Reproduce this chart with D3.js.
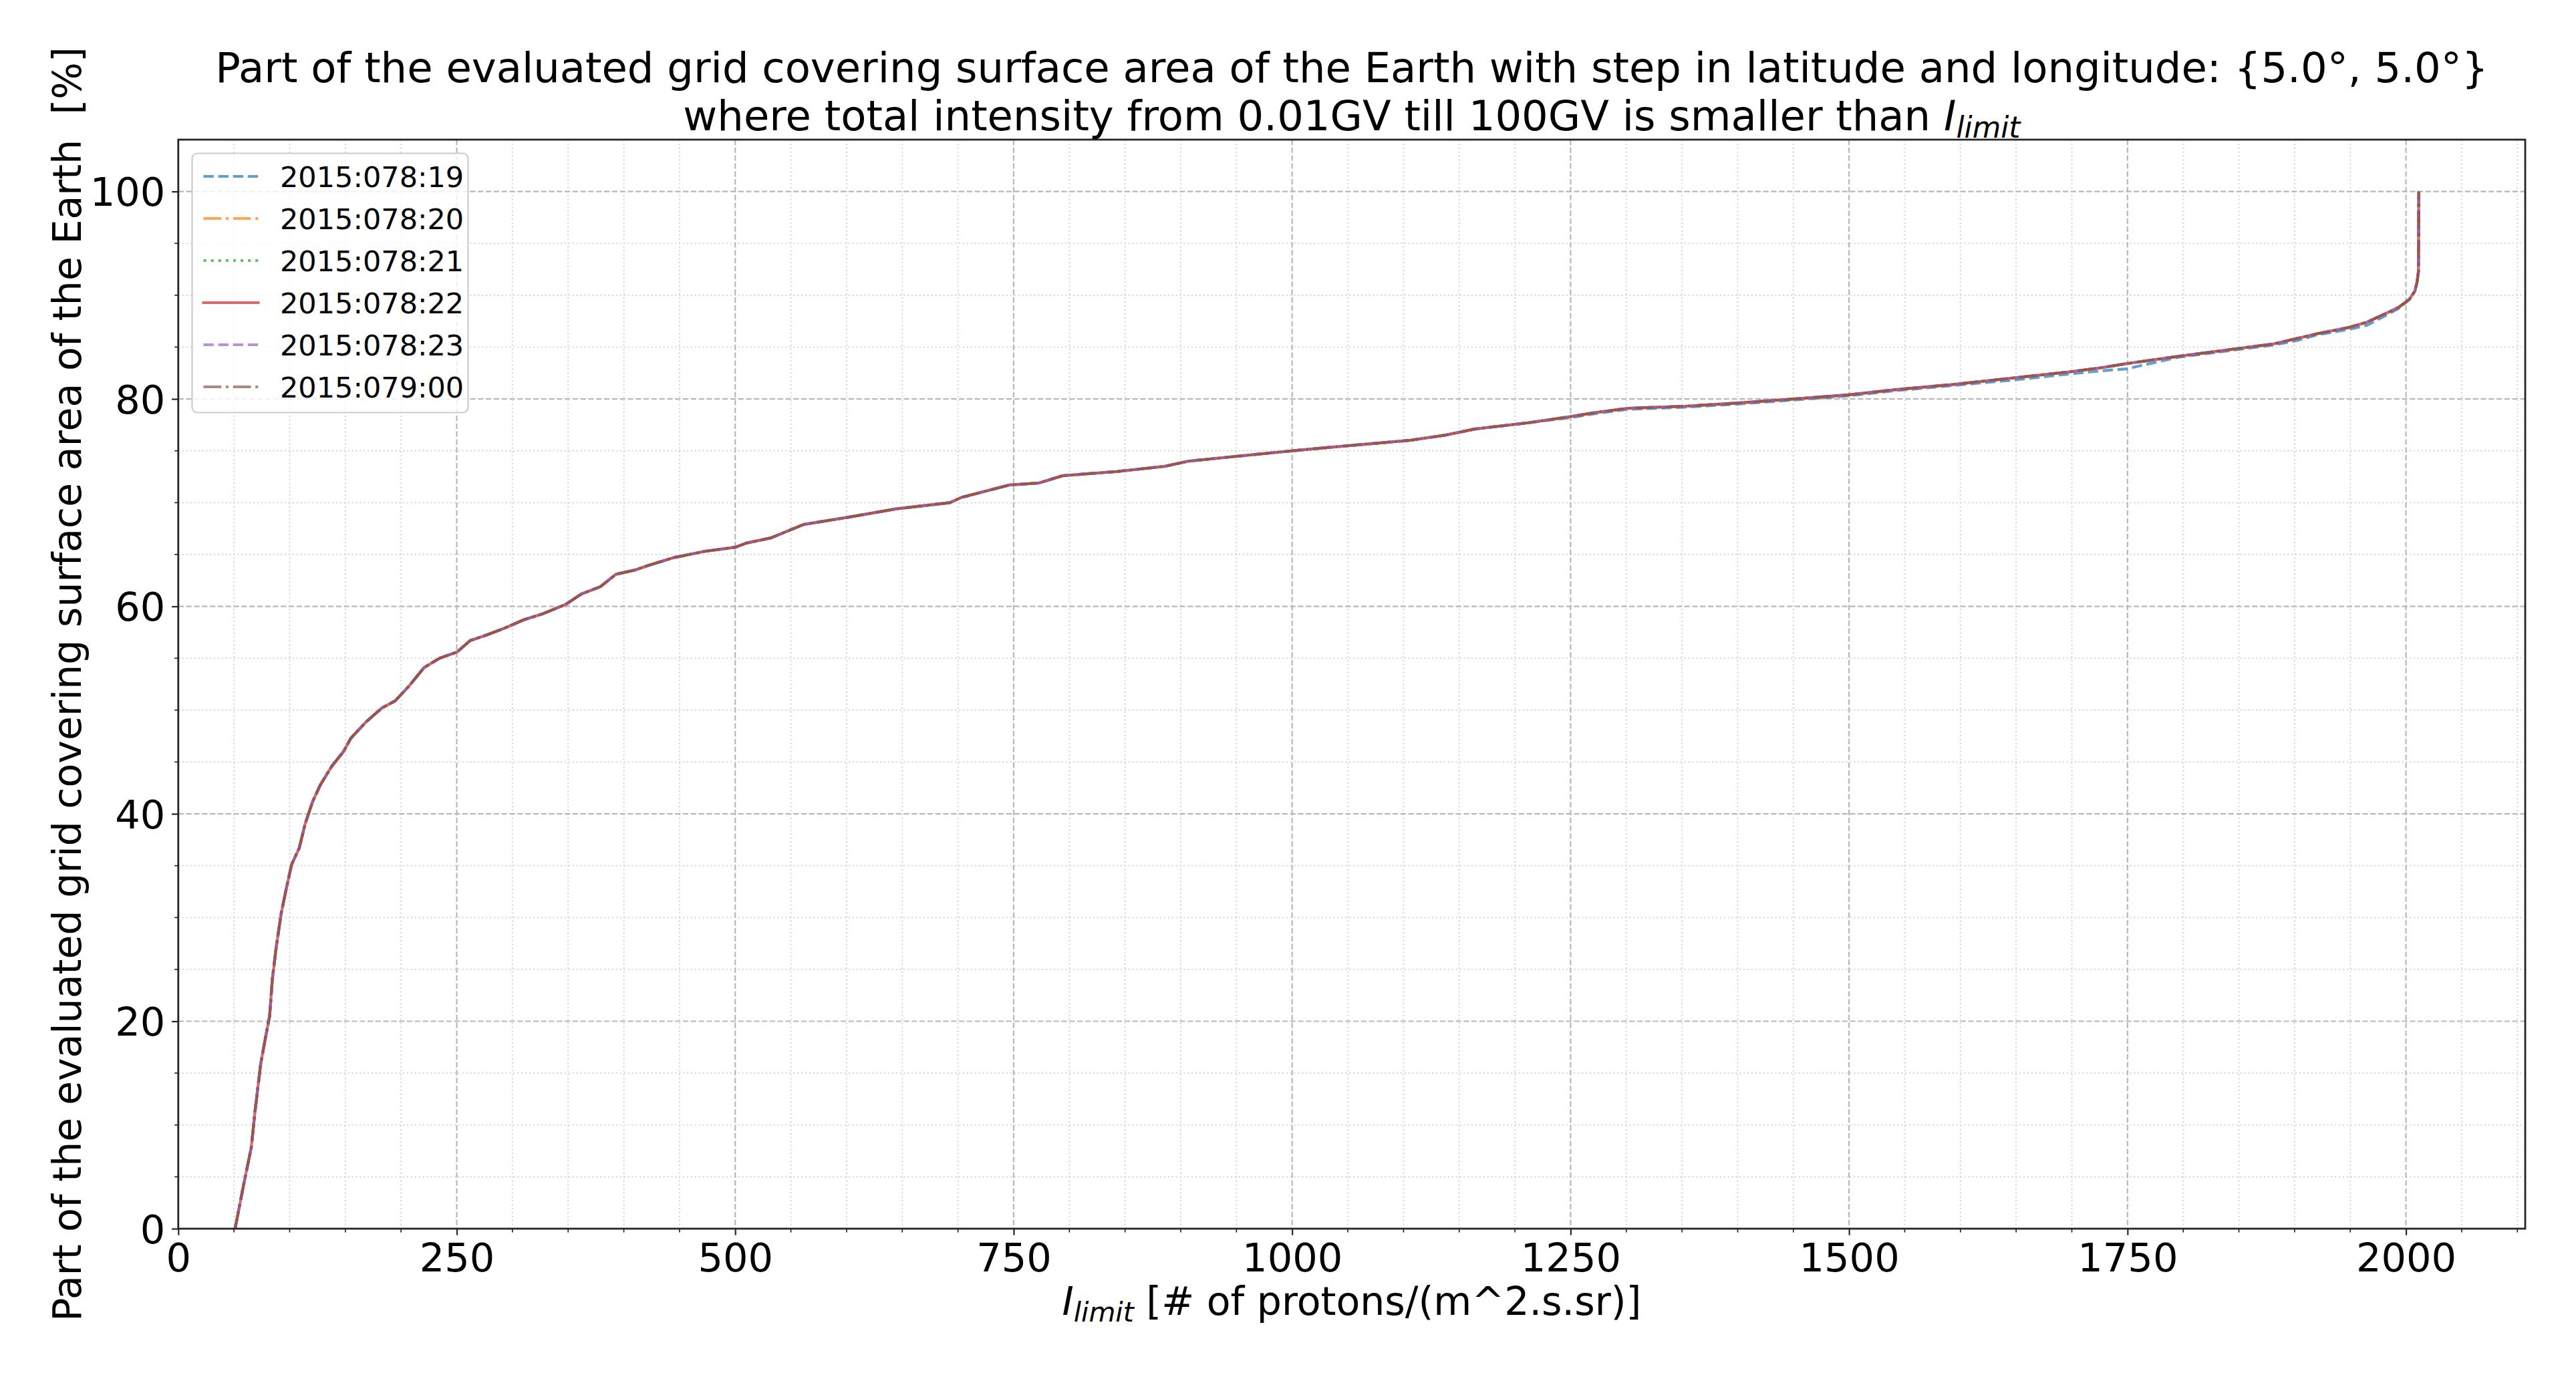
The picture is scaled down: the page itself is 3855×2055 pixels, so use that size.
<!DOCTYPE html>
<html>
<head>
<meta charset="utf-8">
<script src="https://cdn.jsdelivr.net/npm/d3@7"></script>
<style>
  html, body { margin: 0; padding: 0; background: #ffffff; }
  svg { display: block; font-family: "DejaVu Sans", sans-serif; }
</style>
</head>
<body>
<svg id="chart" width="3855" height="2055"></svg>
<script>
// ---------------- data ----------------
const seriesNames = ["2015:078:19", "2015:078:20", "2015:078:21", "2015:078:22", "2015:078:23", "2015:079:00"];
const seriesColors = ["#1f77b4", "#ff7f0e", "#2ca02c", "#d62728", "#9467bd", "#8c564b"];

// I_limit values [# of protons/(m^2.s.sr)]
const iLimit = [51, 58.6, 65.5, 69, 74, 78.6, 82, 84.5, 88, 92.4, 96.6, 101.7, 108.6, 113.8, 120.7, 127.6,
  137.9, 148.3, 155, 169, 182.8, 194.8, 207, 220.7, 234.5, 250.3, 262, 275.9, 293, 310, 327.6, 348, 362,
  379, 393, 410, 420.7, 444.8, 472.4, 500, 510, 532, 561.6, 601.7, 644.5, 692.7, 703, 746, 773, 794, 842.6,
  885.4, 906.9, 944, 1000, 1030, 1051, 1105, 1137, 1164, 1212, 1250, 1273, 1301.6, 1353, 1399, 1450.7,
  1500, 1542, 1594, 1645.6, 1697, 1726, 1749, 1794.7, 1852, 1881, 1901, 1921, 1949, 1965, 1981, 1993,
  2003, 2008, 2010, 2011.2, 2011.5];

// part of the grid [%] (common curve, 2015:078:22 and most hours)
const pctCommon = [0, 4.2, 7.8, 11.4, 15.9, 18.6, 20.5, 24.1, 27.2, 30.4, 32.6, 35.1, 36.7, 39, 41.2, 42.8,
  44.6, 46, 47.3, 48.9, 50.2, 50.9, 52.3, 54.1, 55, 55.6, 56.7, 57.2, 57.9, 58.7, 59.3, 60.2, 61.2,
  61.9, 63.1, 63.5, 63.9, 64.7, 65.3, 65.7, 66.1, 66.6, 67.9, 68.6, 69.4, 70, 70.5, 71.7, 71.9, 72.6, 73,
  73.5, 74, 74.4, 75, 75.3, 75.5, 76, 76.5, 77.1, 77.7, 78.3, 78.7, 79.1, 79.3, 79.6, 80.0,
  80.4, 80.9, 81.4, 82.0, 82.6, 83.0, 83.4, 84.1, 84.9, 85.3, 85.8, 86.3, 86.9, 87.4, 88.2, 88.8,
  89.6, 90.4, 91.3, 92.3, 100];

// 2015:078:19 runs slightly lower on the upper part
const pct19 = [0, 4.2, 7.8, 11.4, 15.9, 18.6, 20.5, 24.1, 27.2, 30.4, 32.6, 35.1, 36.7, 39, 41.2, 42.8,
  44.6, 46, 47.3, 48.9, 50.2, 50.9, 52.3, 54.1, 55, 55.6, 56.7, 57.2, 57.9, 58.7, 59.3, 60.2, 61.2,
  61.9, 63.1, 63.5, 63.9, 64.7, 65.3, 65.7, 66.1, 66.6, 67.9, 68.6, 69.4, 70, 70.5, 71.7, 71.9, 72.6, 73,
  73.5, 74, 74.4, 75, 75.3, 75.5, 76, 76.5, 77.1, 77.7, 78.2, 78.6, 79.0, 79.2, 79.5, 79.9,
  80.3, 80.8, 81.3, 81.8, 82.4, 82.7, 82.9, 84.0, 84.8, 85.2, 85.6, 86.2, 86.7, 87.1, 88.0, 88.7,
  89.6, 90.4, 91.3, 92.3, 100];

const seriesValues = [pct19, pctCommon, pctCommon, pctCommon, pctCommon, pctCommon];

const xTicks = [0, 250, 500, 750, 1000, 1250, 1500, 1750, 2000];
const yTicks = [0, 20, 40, 60, 80, 100];
const xMinorStep = 50;
const yMinorStep = 5;

// ---------------- layout ----------------
const W = 3855, H = 2055;
const plot = { left: 266.8, right: 3779, top: 209, bottom: 1839 };
const TICKFONT = 59;
const LABELFONT = 58.5;
const TITLEFONT = 62.4;
const LFONT = 43;

const svg = d3.select("#chart");
svg.append("rect").attr("width", W).attr("height", H).attr("fill", "#ffffff");

const x = d3.scaleLinear().domain([0, 2011.5 * 1.0475]).range([plot.left, plot.right]);
const y = d3.scaleLinear().domain([0, 105]).range([plot.bottom, plot.top]);

// ---------------- grid ----------------
const grid = svg.append("g");
const xMinor = d3.range(0, x.domain()[1], xMinorStep).filter(v => v % 250 !== 0);
const yMinor = d3.range(0, 105, yMinorStep).filter(v => v % 20 !== 0);

grid.selectAll("line.xmin").data(xMinor).join("line")
  .attr("x1", d => x(d)).attr("x2", d => x(d)).attr("y1", plot.top).attr("y2", plot.bottom)
  .attr("stroke", "#d9d9d9").attr("stroke-width", 2.2).attr("stroke-dasharray", "2.2,3.7");
grid.selectAll("line.ymin").data(yMinor).join("line")
  .attr("x1", plot.left).attr("x2", plot.right).attr("y1", d => y(d)).attr("y2", d => y(d))
  .attr("stroke", "#d9d9d9").attr("stroke-width", 2.2).attr("stroke-dasharray", "2.2,3.7");
grid.selectAll("line.xmaj").data(xTicks).join("line")
  .attr("x1", d => x(d)).attr("x2", d => x(d)).attr("y1", plot.top).attr("y2", plot.bottom)
  .attr("stroke", "#b8b8b8").attr("stroke-width", 2.2).attr("stroke-dasharray", "8.2,3.6");
grid.selectAll("line.ymaj").data(yTicks).join("line")
  .attr("x1", plot.left).attr("x2", plot.right).attr("y1", d => y(d)).attr("y2", d => y(d))
  .attr("stroke", "#b8b8b8").attr("stroke-width", 2.2).attr("stroke-dasharray", "8.2,3.6");

// ---------------- lines ----------------
const dashes = ["15.4,6.7", "26.7,6.7,4.2,6.7", "4.2,6.9", null, "15.4,6.7", "26.7,6.7,4.2,6.7"];
const lineGen = d3.line().x(d => x(d[0])).y(d => y(d[1]));
const linesG = svg.append("g");
seriesNames.forEach((name, i) => {
  const pts = iLimit.map((v, k) => [v, seriesValues[i][k]]);
  linesG.append("path")
    .attr("d", lineGen(pts))
    .attr("fill", "none")
    .attr("stroke", seriesColors[i])
    .attr("stroke-opacity", 0.7)
    .attr("stroke-width", 4.17)
    .attr("stroke-linejoin", "round")
    .attr("stroke-dasharray", dashes[i]);
});

// ---------------- axes ----------------
const xAxis = d3.axisBottom(x).tickValues(xTicks).tickSize(9.7).tickPadding(9.7).tickFormat(d3.format("d"));
const yAxis = d3.axisLeft(y).tickValues(yTicks).tickSize(9.7).tickPadding(9.7).tickFormat(d3.format("d"));
const gx = svg.append("g").attr("transform", `translate(0,${plot.bottom})`).call(xAxis);
const gy = svg.append("g").attr("transform", `translate(${plot.left},0)`).call(yAxis);
[gx, gy].forEach(g => {
  g.select(".domain").remove();
  g.selectAll(".tick line").attr("stroke", "#262626").attr("stroke-width", 2.2);
  g.selectAll(".tick text").attr("fill", "#000").attr("font-size", TICKFONT)
    .attr("font-family", "DejaVu Sans");
});
gx.selectAll(".tick text").attr("dy", "0.76em");
gy.selectAll(".tick text").attr("dy", "0.36em");

// minor ticks
svg.append("g").selectAll("line").data(xMinor).join("line")
  .attr("x1", d => x(d)).attr("x2", d => x(d)).attr("y1", plot.bottom).attr("y2", plot.bottom + 5.6)
  .attr("stroke", "#262626").attr("stroke-width", 1.7);
svg.append("g").selectAll("line").data(yMinor).join("line")
  .attr("x1", plot.left - 5.6).attr("x2", plot.left).attr("y1", d => y(d)).attr("y2", d => y(d))
  .attr("stroke", "#262626").attr("stroke-width", 1.7);

// frame
svg.append("rect").attr("x", plot.left).attr("y", plot.top)
  .attr("width", plot.right - plot.left).attr("height", plot.bottom - plot.top)
  .attr("fill", "none").attr("stroke", "#262626").attr("stroke-width", 2.8);

// ---------------- texts ----------------
const cx = (plot.left + plot.right) / 2;
svg.append("text").attr("x", cx).attr("y", 123).attr("text-anchor", "middle")
  .attr("font-size", TITLEFONT).attr("fill", "#000")
  .text("Part of the evaluated grid covering surface area of the Earth with step in latitude and longitude: {5.0°, 5.0°}");
const t2 = svg.append("text").attr("x", cx).attr("y", 195).attr("text-anchor", "middle")
  .attr("font-size", TITLEFONT).attr("fill", "#000");
t2.append("tspan").text("where total intensity from 0.01GV till 100GV is smaller than ");
t2.append("tspan").attr("font-style", "italic").text("I");
t2.append("tspan").attr("font-style", "italic").attr("font-size", TITLEFONT * 0.7).attr("dy", 11).text("limit");

const xl = svg.append("text").attr("x", cx).attr("y", 1968).attr("text-anchor", "middle")
  .attr("font-size", LABELFONT).attr("fill", "#000");
xl.append("tspan").attr("font-style", "italic").text("I");
xl.append("tspan").attr("font-style", "italic").attr("font-size", LABELFONT * 0.7).attr("dy", 10).text("limit");
xl.append("tspan").attr("dy", -10).text(" [# of protons/(m^2.s.sr)]");

svg.append("text").attr("transform", `translate(121,${(plot.top + plot.bottom) / 2}) rotate(-90)`)
  .attr("text-anchor", "middle").attr("font-size", LABELFONT).attr("fill", "#000")
  .style("white-space", "pre")
  .text("Part of the evaluated grid covering surface area of the Earth  [%]");

// ---------------- legend ----------------
const leg = svg.append("g");
leg.append("rect").attr("x", 287.5).attr("y", 229.5).attr("width", 413).attr("height", 388).attr("rx", 8)
  .attr("fill", "#ffffff").attr("fill-opacity", 0.8).attr("stroke", "#cccccc").attr("stroke-width", 2.2);
const rowY = d3.scaleLinear().domain([0, 5]).range([264, 579]);
seriesNames.forEach((name, i) => {
  leg.append("line").attr("x1", 304.5).attr("x2", 386.5).attr("y1", rowY(i)).attr("y2", rowY(i))
    .attr("stroke", seriesColors[i]).attr("stroke-opacity", 0.7).attr("stroke-width", 4.17)
    .attr("stroke-dasharray", dashes[i])
    .attr("stroke-linecap", dashes[i] ? "butt" : "square");
  leg.append("text").attr("x", 419).attr("y", rowY(i) + 16).attr("font-size", LFONT).attr("fill", "#000")
    .text(name);
});
</script>
</body>
</html>
